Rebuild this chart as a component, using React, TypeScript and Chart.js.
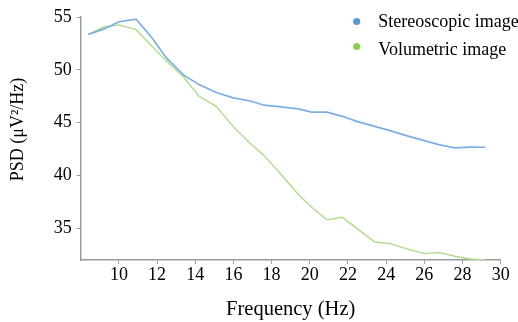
import React, { useEffect, useRef } from "react";
import { Chart, registerables } from "chart.js";

Chart.register(...registerables);

const freq = [8.4, 9.2, 10.0, 10.9, 11.7, 12.5, 13.4, 14.2, 15.1, 16.0, 16.9, 17.6, 18.5, 19.4, 20.1, 20.9, 21.7, 22.5, 23.4, 24.2, 25.1, 26.0, 26.8, 27.6, 28.4, 29.2];
const stereoscopic = [53.35, 53.85, 54.55, 54.8, 53.1, 51.1, 49.5, 48.6, 47.85, 47.35, 47.05, 46.65, 46.5, 46.3, 46.0, 46.0, 45.6, 45.1, 44.65, 44.25, 43.75, 43.3, 42.9, 42.62, 42.68, 42.67];
const volumetric = [53.36, 54.05, 54.25, 53.8, 52.3, 50.8, 49.3, 47.5, 46.55, 44.6, 43.0, 41.9, 40.1, 38.2, 37.0, 35.8, 36.05, 34.95, 33.7, 33.55, 33.05, 32.6, 32.7, 32.35, 32.1, 32.0];
const seriesLabels = ["Stereoscopic image", "Volumetric image"];
const xTicks = [10, 12, 14, 16, 18, 20, 22, 24, 26, 28, 30];
const yTicks = [35, 40, 45, 50, 55];

const FONT = "'Liberation Serif', 'Times New Roman', serif";

const legendPlugin = {
  id: "sideLegend",
  afterDraw(chart: any) {
    const { ctx, chartArea } = chart;
    const dots = ["#5B9BD5", "#8DCF4E"];
    ctx.save();
    chart.data.datasets.forEach((ds: any, i: number) => {
      const x = chartArea.right - 144;
      const y = chartArea.top + 4.5 + 25 * i;
      ctx.beginPath();
      ctx.fillStyle = dots[i];
      ctx.arc(x, y, 3.6, 0, Math.PI * 2);
      ctx.fill();
      ctx.fillStyle = "#000";
      ctx.font = `18px ${FONT}`;
      ctx.textBaseline = "alphabetic";
      ctx.textAlign = "left";
      ctx.fillText(ds.label, x + 21.5, chartArea.top + 9.5 + 28 * i);
    });
    ctx.restore();
  },
};

export default function App() {
  const ref = useRef<HTMLCanvasElement | null>(null);
  useEffect(() => {
    if (!ref.current) return;
    const chart = new Chart(ref.current, {
      type: "line",
      data: {
        datasets: [
          {
            label: seriesLabels[0],
            data: freq.map((x, i) => ({ x, y: stereoscopic[i] })),
            borderColor: "#7DAEE3",
            borderWidth: 1.7,
            pointRadius: 0,
            tension: 0,
          },
          {
            label: seriesLabels[1],
            data: freq.map((x, i) => ({ x, y: volumetric[i] })),
            borderColor: "#AEDB8C",
            borderWidth: 1.4,
            pointRadius: 0,
            tension: 0,
          },
        ],
      },
      options: {
        animation: false,
        responsive: false,
        maintainAspectRatio: false,
        layout: { padding: { left: 0, right: 17.3, top: 17, bottom: 0 } },
        plugins: { legend: { display: false }, tooltip: { enabled: false } },
        scales: {
          x: {
            type: "linear",
            min: 8,
            max: 30,
            afterBuildTicks: (s: any) => {
              s.ticks = xTicks.map((v) => ({ value: v }));
            },
            afterFit: (s: any) => {
              s.height = 62;
            },
            grid: { drawOnChartArea: false, drawTicks: true, tickLength: 4, color: "#9a9a9a" },
            border: { display: true, color: "#9a9a9a", width: 1.5 },
            ticks: { color: "#000", font: { family: FONT, size: 18 }, padding: 0, maxRotation: 0, autoSkip: false },
            title: {
              display: true,
              text: "Frequency (Hz)",
              color: "#000",
              font: { family: FONT, size: 20.5 },
              padding: { top: 0, bottom: 0 },
            },
          },
          y: {
            type: "linear",
            min: 32,
            max: 55,
            afterBuildTicks: (s: any) => {
              s.ticks = yTicks.map((v) => ({ value: v }));
            },
            afterFit: (s: any) => {
              s.width = 80.7;
            },
            grid: { drawOnChartArea: false, drawTicks: true, tickLength: 4, color: "#9a9a9a" },
            border: { display: true, color: "#9a9a9a", width: 1.5 },
            ticks: { color: "#000", font: { family: FONT, size: 18 }, padding: 5 },
            title: {
              display: true,
              text: "    PSD (μV²/Hz)",
              color: "#000",
              font: { family: FONT, size: 18 },
              padding: { top: 7, bottom: 0 },
            },
          },
        },
      },
      plugins: [legendPlugin],
    } as any);
    return () => chart.destroy();
  }, []);
  return (
    <div style={{ position: "fixed", left: 0, top: 0, width: 518, height: 322, background: "#fff" }}>
      <canvas ref={ref} width={518} height={322} style={{ width: 518, height: 322, display: "block" }} />
    </div>
  );
}
